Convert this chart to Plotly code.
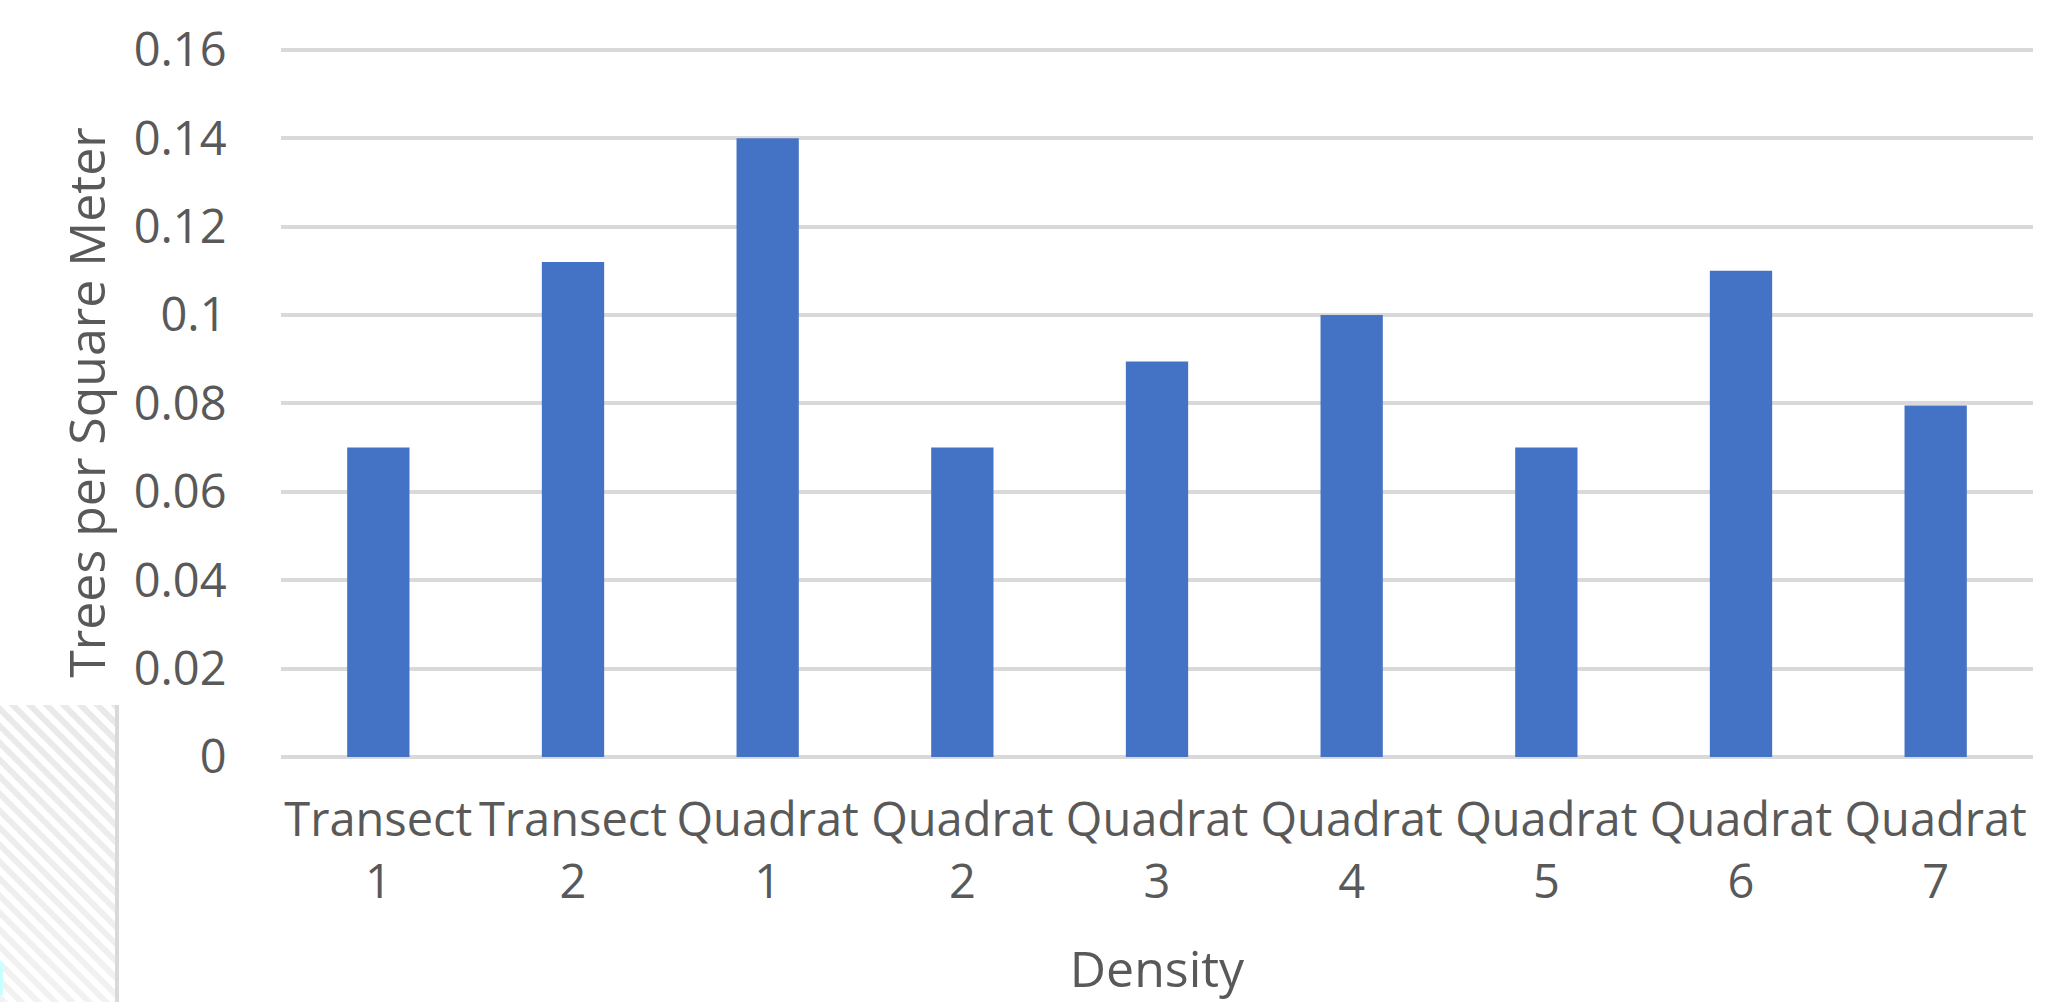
import base64
import plotly.graph_objects as go

# Tree density per sampling method
categories = ["Transect<br>1", "Transect<br>2", "Quadrat<br>1", "Quadrat<br>2", "Quadrat<br>3",
              "Quadrat<br>4", "Quadrat<br>5", "Quadrat<br>6", "Quadrat<br>7"]
density = [0.07, 0.112, 0.14, 0.07, 0.0895, 0.1, 0.07, 0.11, 0.0795]
y_ticks = [0, 0.02, 0.04, 0.06, 0.08, 0.1, 0.12, 0.14, 0.16]
y_tick_text = ["0", "0.02", "0.04", "0.06", "0.08", "0.1", "0.12", "0.14", "0.16"]

W, H = 2053, 1002
L, R, T, B = 281, 20, 48, 245
TEXT = "#595959"
FONT = "Open Sans"
Y_MAX = 0.1604

fig = go.Figure(go.Bar(x=categories, y=density, marker=dict(color="#4472C4", line=dict(width=0))))

# Hatched side panel in the lower-left corner
hatch_svg = """<svg xmlns='http://www.w3.org/2000/svg' width='119' height='297'>
<defs><pattern id='h' width='12' height='12' patternUnits='userSpaceOnUse' patternTransform='rotate(45)'>
<rect width='12' height='12' fill='#ffffff'/><rect width='12' height='6' fill='#e9e9e9'/></pattern>
<linearGradient id='g' x1='0' y1='0' x2='0' y2='1'><stop offset='0' stop-color='#ffffff' stop-opacity='0'/>
<stop offset='1' stop-color='#ffffff' stop-opacity='0.4'/></linearGradient></defs>
<rect width='115' height='297' fill='url(#h)'/>
<rect width='115' height='297' fill='url(#g)'/>
<rect x='115' width='4' height='297' fill='#d9d9d9'/>
<rect x='0' y='257' width='3' height='33' fill='#c8ffff'/>
</svg>"""
hatch_uri = "data:image/svg+xml;base64," + base64.b64encode(hatch_svg.encode()).decode()

pw, ph = W - L - R, H - T - B
fig.add_layout_image(dict(
    source=hatch_uri, xref="paper", yref="paper",
    x=(0 - L) / pw, y=(H - B - 705) / ph,
    sizex=119 / pw, sizey=297 / ph,
    xanchor="left", yanchor="top", sizing="stretch", layer="below",
))

fig.update_layout(
    width=W, height=H,
    margin=dict(l=L, r=R, t=T, b=B),
    paper_bgcolor="white", plot_bgcolor="white",
    bargap=0.68,
    showlegend=False,
    font=dict(family=FONT, color=TEXT, size=47),
    xaxis=dict(
        showgrid=False, showline=False, zeroline=False,
        ticks="outside", ticklen=22, tickcolor="rgba(0,0,0,0)",
        tickfont=dict(size=47, color=TEXT),
        title=dict(text="Density", font=dict(size=50, color=TEXT), standoff=42),
    ),
    yaxis=dict(
        range=[0, Y_MAX],
        tickvals=y_ticks, ticktext=y_tick_text,
        showgrid=True, gridcolor="#d9d9d9", gridwidth=4,
        zeroline=True, zerolinecolor="#d9d9d9", zerolinewidth=4,
        showline=False,
        ticks="outside", ticklen=44, tickcolor="rgba(0,0,0,0)",
        tickfont=dict(size=47, color=TEXT),
        title=dict(text="Trees per Square Meter", font=dict(size=50, color=TEXT), standoff=12),
    ),
)

fig.write_html("out.html")
